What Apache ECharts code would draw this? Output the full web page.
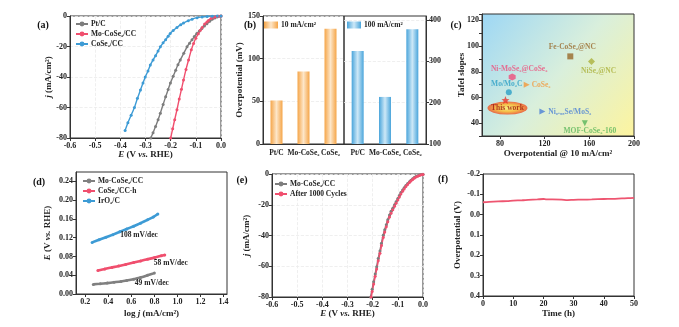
<!DOCTYPE html>
<html>
<head>
<meta charset="utf-8">
<script src="https://cdn.jsdelivr.net/npm/echarts@6/dist/echarts.min.js"></script>
<style>
  html, body { margin: 0; padding: 0; background: #fff; }
  #chart { width: 679px; height: 327px; }
</style>
</head>
<body>
<div id="chart"></div>
<script>
// ---------- (a) HER polarization curves: [E vs. RHE (V), j (mA/cm2)] ----------
const aPtC = [[0,0],[-0.008,-0.2],[-0.016,-0.6],[-0.025,-1.3],[-0.035,-2.2],[-0.045,-3.5],[-0.056,-5],[-0.066,-6.6],[-0.076,-8.2],[-0.086,-9.8],[-0.096,-11.5],[-0.106,-13.5],[-0.115,-15.5],[-0.125,-17.8],[-0.135,-20.2],[-0.148,-24.5],[-0.162,-28.9],[-0.171,-32],[-0.18,-35.5],[-0.19,-39.5],[-0.201,-44],[-0.21,-48.2],[-0.22,-53],[-0.23,-58],[-0.241,-63.7],[-0.25,-68],[-0.26,-72.5],[-0.27,-76.5],[-0.279,-80]];
const aMoCoSe2 = [[0,0],[-0.01,-0.2],[-0.02,-0.5],[-0.03,-1],[-0.04,-1.7],[-0.05,-2.9],[-0.056,-3.9],[-0.065,-5.3],[-0.075,-7.6],[-0.082,-9.3],[-0.09,-11.6],[-0.1,-14.6],[-0.109,-18],[-0.118,-22.2],[-0.129,-28.9],[-0.139,-35],[-0.149,-42],[-0.157,-48],[-0.166,-54.5],[-0.175,-61.5],[-0.184,-68],[-0.192,-74],[-0.2,-80]];
const aCoSe2 = [[0,0],[-0.015,0],[-0.035,-0.1],[-0.055,-0.3],[-0.075,-0.6],[-0.095,-1.1],[-0.115,-2.1],[-0.13,-3.1],[-0.149,-4.6],[-0.16,-5.7],[-0.175,-7.5],[-0.19,-9.5],[-0.202,-11.5],[-0.21,-13.3],[-0.22,-15.5],[-0.23,-17.6],[-0.241,-20.2],[-0.25,-23],[-0.26,-26],[-0.27,-28.8],[-0.281,-32.2],[-0.29,-36],[-0.301,-40],[-0.31,-44],[-0.32,-48.5],[-0.332,-54],[-0.344,-60],[-0.357,-65],[-0.37,-70],[-0.381,-75]];

// ---------- (b) overpotentials (mV) ----------
const bCategories = ['Pt/C', 'Mo-CoSe₂', 'CoSe₂'];
const bEta10 = [51, 85, 135];
const bEta100 = [325, 214, 378];

// ---------- (c) comparison with reported catalysts ----------
const cNames = ['This work', 'Mo/Mo₂C', 'Ni-MoSe₂@CoSe₂', 'CoSe₂', 'Fe-CoSe₂@NC', 'NiSe₂@NC', 'Ni₀.₈₅Se/MoS₂', 'MOF-CoSe₂-160'];
const cEta10 = [85, 88, 91, 104, 143, 162, 118, 156];
const cTafel = [58, 64, 76, 70, 92, 88, 49, 40];

// ---------- (d) Tafel plots: [log j, E (V)] ----------
const dMoCoSe2 = [[0.27,0.0205],[0.33,0.0218],[0.39,0.0232],[0.45,0.025],[0.51,0.0268],[0.56,0.0288],[0.62,0.0316],[0.68,0.0352],[0.74,0.0398],[0.8,0.0445]];
const dCoSe2h = [[0.31,0.05],[0.37,0.0535],[0.43,0.0565],[0.49,0.0595],[0.55,0.063],[0.62,0.067],[0.68,0.0705],[0.74,0.074],[0.8,0.0775],[0.86,0.0815],[0.89,0.0833]];
const dIrO2 = [[0.26,0.11],[0.32,0.1155],[0.38,0.121],[0.44,0.1265],[0.5,0.1325],[0.56,0.1385],[0.62,0.1445],[0.68,0.151],[0.74,0.158],[0.79,0.164],[0.83,0.1705]];
const dSlopes = [49, 58, 108];

// ---------- (e) polarization before / after cycling ----------
const eInitial = [[0,-0.2],[-0.007,-0.4],[-0.014,-0.7],[-0.021,-1.1],[-0.028,-1.7],[-0.035,-2.3],[-0.041,-3.1],[-0.048,-4],[-0.054,-5],[-0.061,-6.2],[-0.068,-7.5],[-0.075,-8.9],[-0.081,-10.4],[-0.088,-12.1],[-0.094,-14],[-0.1,-15.9],[-0.107,-18],[-0.113,-20],[-0.12,-22.2],[-0.127,-24.3],[-0.133,-26.7],[-0.14,-29.8],[-0.146,-33],[-0.152,-36.3],[-0.158,-39.8],[-0.165,-45],[-0.171,-50],[-0.178,-55],[-0.184,-60.4],[-0.19,-65],[-0.196,-70],[-0.202,-75],[-0.208,-80]];
const eAfter = [[0,-0.3],[-0.007,-0.5],[-0.014,-0.9],[-0.021,-1.4],[-0.028,-2],[-0.035,-2.7],[-0.041,-3.5],[-0.048,-4.5],[-0.054,-5.6],[-0.061,-6.8],[-0.068,-8.2],[-0.075,-9.7],[-0.081,-11.2],[-0.088,-13],[-0.094,-14.9],[-0.1,-16.9],[-0.107,-19],[-0.113,-21],[-0.12,-23.3],[-0.127,-25.6],[-0.133,-28],[-0.14,-31],[-0.146,-34.3],[-0.152,-37.8],[-0.158,-41.3],[-0.165,-46.5],[-0.171,-51.5],[-0.178,-56.5],[-0.184,-61.8],[-0.19,-66.5],[-0.196,-71.5],[-0.202,-76.5],[-0.206,-80]];

// ---------- (f) chronopotentiometry ----------
const fTime = [0, 2, 5, 8, 10, 13, 15, 18, 20, 21, 23, 26, 28, 30, 33, 36, 40, 43, 46, 48, 50];
const fEta = [-0.061, -0.063, -0.065, -0.067, -0.069, -0.071, -0.073, -0.075, -0.077, -0.075, -0.075, -0.074, -0.072, -0.073, -0.074, -0.075, -0.077, -0.078, -0.08, -0.081, -0.083];

// ---------- shared styling ----------
const SERIF = '"Liberation Serif", "Times New Roman", serif';
const INK = '#222';
const labelFont = { fontFamily: SERIF, fontWeight: 'bold', fontSize: 8, color: INK };
const nameFont = {
  fontFamily: SERIF, fontWeight: 'bold', fontSize: 9, color: INK,
  rich: { i: { fontFamily: SERIF, fontWeight: 'bold', fontStyle: 'italic', fontSize: 9, color: INK } }
};
const faint = { show: true, lineStyle: { color: '#ebebeb', width: 0.8, type: 'dashed' } };

function axis(type, gridIndex, cfg = {}) {
  const { label = {}, tick = {}, ...rest } = cfg;
  return {
    type, gridIndex, nameLocation: 'middle', nameMoveOverlap: false,
    axisLine: { show: true, onZero: false, lineStyle: { color: '#333', width: 1 } },
    axisTick: { show: true, length: 3, lineStyle: { color: '#333', width: 1 }, ...tick },
    axisLabel: { margin: 4, ...labelFont, ...label },
    splitLine: { show: false },
    nameTextStyle: nameFont,
    ...rest
  };
}

function lineLook(color, width = 1.4, size = 3) {
  return {
    type: 'line', smooth: 0.2, symbol: 'circle', symbolSize: size, showSymbol: true,
    color, lineStyle: { width, color }, itemStyle: { color }, emphasis: { disabled: true }
  };
}

function legendAt(left, top, names, extra = {}) {
  return {
    left, top, orient: 'vertical', padding: 0, itemGap: 2,
    itemWidth: 12, itemHeight: 6, selectedMode: false, data: names,
    formatter: n => n.slice(2),
    textStyle: { fontFamily: SERIF, fontWeight: 'bold', fontSize: 7.5, color: INK, padding: [0, 0, 0, -2] },
    ...extra
  };
}

const fix = d => v => v.toFixed(d);
const orangeBar = new echarts.graphic.LinearGradient(0, 0, 1, 0, [
  { offset: 0, color: '#f5a548' }, { offset: 0.5, color: '#fde6c8' }, { offset: 1, color: '#f5a548' }]);
const blueBar = new echarts.graphic.LinearGradient(0, 0, 1, 0, [
  { offset: 0, color: '#4aa5db' }, { offset: 0.5, color: '#cde8f7' }, { offset: 1, color: '#4aa5db' }]);
const panelC = new echarts.graphic.LinearGradient(0, 0, 1, 1, [
  { offset: 0, color: '#9dd7f5' }, { offset: 0.5, color: '#d9efdc' }, { offset: 1, color: '#fdf49e' }]);
const ellipseFill = new echarts.graphic.RadialGradient(0.5, 0.5, 0.5, [
  { offset: 0, color: '#fff36a' }, { offset: 0.55, color: '#ffb423' }, { offset: 1, color: '#ee4a22' }]);

const STAR = 'path://M12 1 L14.9 8.3 L22.5 8.9 L16.7 13.9 L18.5 21.5 L12 17.4 L5.5 21.5 L7.3 13.9 L1.5 8.9 L9.1 8.3 Z';
const HEX = 'path://M12 2 L20.7 7 L20.7 17 L12 22 L3.3 17 L3.3 7 Z';

// marker style and label placement for each catalyst in (c)
const cLook = [
  { symbol: STAR, size: 8, color: '#e8352b' },
  { symbol: 'circle', size: 6, color: '#2c9fc6', label: { position: 'top', distance: 1, offset: [-2, 0] } },
  { symbol: HEX, size: 7, color: '#ee4f7c', label: { position: 'top', distance: 0, offset: [7, 0] } },
  { symbol: 'triangle', rotate: -90, size: 6, color: '#f4973a', label: { position: 'right', distance: 2 } },
  { symbol: 'rect', size: 6, color: '#98692b', label: { position: 'top', distance: 2, offset: [2, 0] } },
  { symbol: 'diamond', size: 7, color: '#abb23c', label: { position: 'bottom', distance: 2, offset: [7, 0] } },
  { symbol: 'triangle', rotate: -90, size: 6, color: '#4a7fd6', label: { position: 'right', distance: 3 } },
  { symbol: 'triangle', rotate: 180, size: 6, color: '#58b55a', label: { position: 'bottom', distance: 1, offset: [5, 0] } }
];

const cSeries = [{
  // highlight ellipse under the "This work" marker
  type: 'scatter', xAxisIndex: 3, yAxisIndex: 3, silent: true,
  data: [[cEta10[0], cTafel[0]]],
  symbol: 'circle', symbolSize: [40, 13], symbolOffset: [2, 8],
  itemStyle: { color: ellipseFill },
  label: { show: true, position: 'inside', formatter: 'This work', fontFamily: SERIF, fontWeight: 'bold', fontSize: 7.5, color: '#a3150f' }
}].concat(cNames.map((name, i) => {
  const st = cLook[i];
  return {
    type: 'scatter', xAxisIndex: 3, yAxisIndex: 3, silent: true,
    data: [[cEta10[i], cTafel[i]]],
    symbol: st.symbol, symbolSize: st.size, symbolRotate: st.rotate || 0,
    itemStyle: { color: st.color },
    label: st.label ? {
      show: true, formatter: name, fontFamily: SERIF, fontWeight: 'bold', fontSize: 7.5, color: st.color, ...st.label
    } : { show: false }
  };
}));

function note(coord, text) {
  return {
    symbol: 'circle', symbolSize: 0, silent: true,
    data: [{ coord }],
    label: { show: true, position: 'inside', formatter: text, fontFamily: SERIF, fontWeight: 'bold', fontSize: 7.5, color: INK }
  };
}

const tag = (x, y, text) => ({
  type: 'text', x, y, silent: true,
  style: { text, font: 'bold 10px ' + SERIF, fill: '#111', align: 'center', verticalAlign: 'middle' }
});

const dXTicks = [0.2, 0.4, 0.6, 0.8, 1.0, 1.2, 1.4];
const dYTicks = [0, 0.04, 0.08, 0.12, 0.16, 0.2, 0.24];

const option = {
  animation: false,
  backgroundColor: '#fff',
  textStyle: { fontFamily: SERIF },
  grid: [
    { left: 70, top: 16, width: 151, height: 122, show: true, borderColor: '#333', borderWidth: 1 },
    { left: 263, top: 16, width: 81, height: 128, show: true, borderColor: '#333', borderWidth: 1 },
    { left: 344, top: 16, width: 82, height: 128, show: true, borderColor: '#333', borderWidth: 1 },
    { left: 482, top: 14, width: 152, height: 122, show: true, borderColor: '#333', borderWidth: 1, backgroundColor: panelC },
    { left: 76, top: 172, width: 151, height: 122, show: true, borderColor: '#333', borderWidth: 1 },
    { left: 272, top: 174, width: 151, height: 123, show: true, borderColor: '#333', borderWidth: 1 },
    { left: 483, top: 174, width: 151, height: 122, show: true, borderColor: '#333', borderWidth: 1 }
  ],
  xAxis: [
    axis('value', 0, { min: -0.6, max: 0, interval: 0.1, name: '{i|E} (V {i|vs.} RHE)', nameGap: 12, label: { formatter: fix(1) }, splitLine: faint }),
    axis('category', 1, { data: bCategories, tick: { show: false }, label: { fontSize: 7.5, margin: 5, interval: 0 } }),
    axis('category', 2, { data: bCategories, tick: { show: false }, label: { fontSize: 7.5, margin: 5, interval: 0 } }),
    axis('value', 3, { min: 64, max: 200, name: 'Overpotential @ 10 mA/cm²', nameGap: 13,
      label: { customValues: [80, 120, 160, 200] }, tick: { customValues: [80, 120, 160, 200] } }),
    axis('value', 4, { min: 0.12, max: 1.43, name: 'log {i|j} (mA/cm²)', nameGap: 15,
      label: { customValues: dXTicks, formatter: fix(1) }, tick: { customValues: dXTicks } }),
    axis('value', 5, { min: -0.6, max: 0, interval: 0.1, name: '{i|E} (V {i|vs.} RHE)', nameGap: 12, label: { formatter: fix(1) }, splitLine: faint }),
    axis('value', 6, { min: 0, max: 50, interval: 10, name: 'Time (h)', nameGap: 13 })
  ],
  yAxis: [
    axis('value', 0, { min: -80, max: 0, interval: 20, name: '{i|j} (mA/cm²)', nameGap: 17, label: { margin: 3 }, splitLine: faint }),
    axis('value', 1, { min: 0, max: 150, interval: 50, name: 'Overpotential (mV)', nameGap: 19, label: { margin: 3 }, splitLine: faint }),
    axis('value', 2, { position: 'right', min: 100, max: 410, interval: 100,
      label: { margin: 3, customValues: [100, 200, 300, 400] }, tick: { customValues: [100, 200, 300, 400] }, splitLine: faint }),
    axis('value', 3, { min: 30, max: 125, interval: 10, name: 'Tafel slopes', nameGap: 16,
      label: { margin: 3, customValues: [40, 60, 80, 100, 120] } }),
    axis('value', 4, { min: 0, max: 0.26, interval: 0.04, name: '{i|E} (V {i|vs.} RHE)', nameGap: 24,
      label: { margin: 3, customValues: dYTicks, formatter: fix(2) }, tick: { customValues: dYTicks } }),
    axis('value', 5, { min: -80, max: 0, interval: 20, name: '{i|j} (mA/cm²)', nameGap: 21, label: { margin: 3 }, splitLine: faint }),
    axis('value', 6, { min: -0.2, max: 0.4, interval: 0.1, inverse: true, name: 'Overpotential (V)', nameGap: 21,
      label: { margin: 3, formatter: fix(1) } })
  ],
  legend: [
    legendAt(75, 20, ['a:Pt/C', 'a:Mo-CoSe₂/CC', 'a:CoSe₂/CC']),
    legendAt(264, 21, ['b:10 mA/cm²'], { icon: 'rect', itemWidth: 14, itemHeight: 7 }),
    legendAt(347, 21, ['c:100 mA/cm²'], { icon: 'rect', itemWidth: 14, itemHeight: 7 }),
    legendAt(82, 177, ['d:Mo-CoSe₂/CC', 'd:CoSe₂/CC-h', 'd:IrO₂/C']),
    legendAt(274, 180, ['e:Mo-CoSe₂/CC', 'e:After 1000 Cycles'])
  ],
  series: [
    // (a)
    { ...lineLook('#7d7d7d'), name: 'a:Pt/C', xAxisIndex: 0, yAxisIndex: 0, data: aPtC },
    { ...lineLook('#f04f6e'), name: 'a:Mo-CoSe₂/CC', xAxisIndex: 0, yAxisIndex: 0, data: aMoCoSe2 },
    { ...lineLook('#3d9bd5'), name: 'a:CoSe₂/CC', xAxisIndex: 0, yAxisIndex: 0, data: aCoSe2 },
    // (b)
    { type: 'bar', name: 'b:10 mA/cm²', xAxisIndex: 1, yAxisIndex: 1, data: bEta10, barWidth: 12,
      itemStyle: { color: orangeBar }, color: '#f5a548', silent: true },
    { type: 'bar', name: 'c:100 mA/cm²', xAxisIndex: 2, yAxisIndex: 2, data: bEta100, barWidth: 12, clip: true,
      itemStyle: { color: blueBar }, color: '#4aa5db', silent: true },
    // (c)
    ...cSeries,
    // (d)
    { ...lineLook('#808080', 2.6, 3), name: 'd:Mo-CoSe₂/CC', xAxisIndex: 4, yAxisIndex: 4, data: dMoCoSe2,
      markPoint: note([0.778, 0.0235], dSlopes[0] + ' mV/dec') },
    { ...lineLook('#f04f6e', 2.6, 3), name: 'd:CoSe₂/CC-h', xAxisIndex: 4, yAxisIndex: 4, data: dCoSe2h,
      markPoint: note([0.942, 0.0653], dSlopes[1] + ' mV/dec') },
    { ...lineLook('#3d9bd5', 2.6, 3), name: 'd:IrO₂/C', xAxisIndex: 4, yAxisIndex: 4, data: dIrO2,
      markPoint: note([0.667, 0.1256], dSlopes[2] + ' mV/dec') },
    // (e)
    { ...lineLook('#7d7d7d', 1.6, 3), name: 'e:Mo-CoSe₂/CC', xAxisIndex: 5, yAxisIndex: 5, data: eInitial },
    { ...lineLook('#f04f6e', 1.6, 3), name: 'e:After 1000 Cycles', xAxisIndex: 5, yAxisIndex: 5, data: eAfter },
    // (f)
    { type: 'line', name: 'f:stability', xAxisIndex: 6, yAxisIndex: 6, showSymbol: false, smooth: 0.3,
      data: fTime.map((t, i) => [t, fEta[i]]), color: '#ee5570', lineStyle: { width: 1.8, color: '#ee5570' }, silent: true }
  ],
  graphic: [
    tag(43, 25, '(a)'), tag(250, 25, '(b)'), tag(456, 25, '(c)'),
    tag(39, 182, '(d)'), tag(242, 180, '(e)'), tag(443, 179, '(f)')
  ]
};

const chart = echarts.init(document.getElementById('chart'));
chart.setOption(option);
</script>
</body>
</html>
